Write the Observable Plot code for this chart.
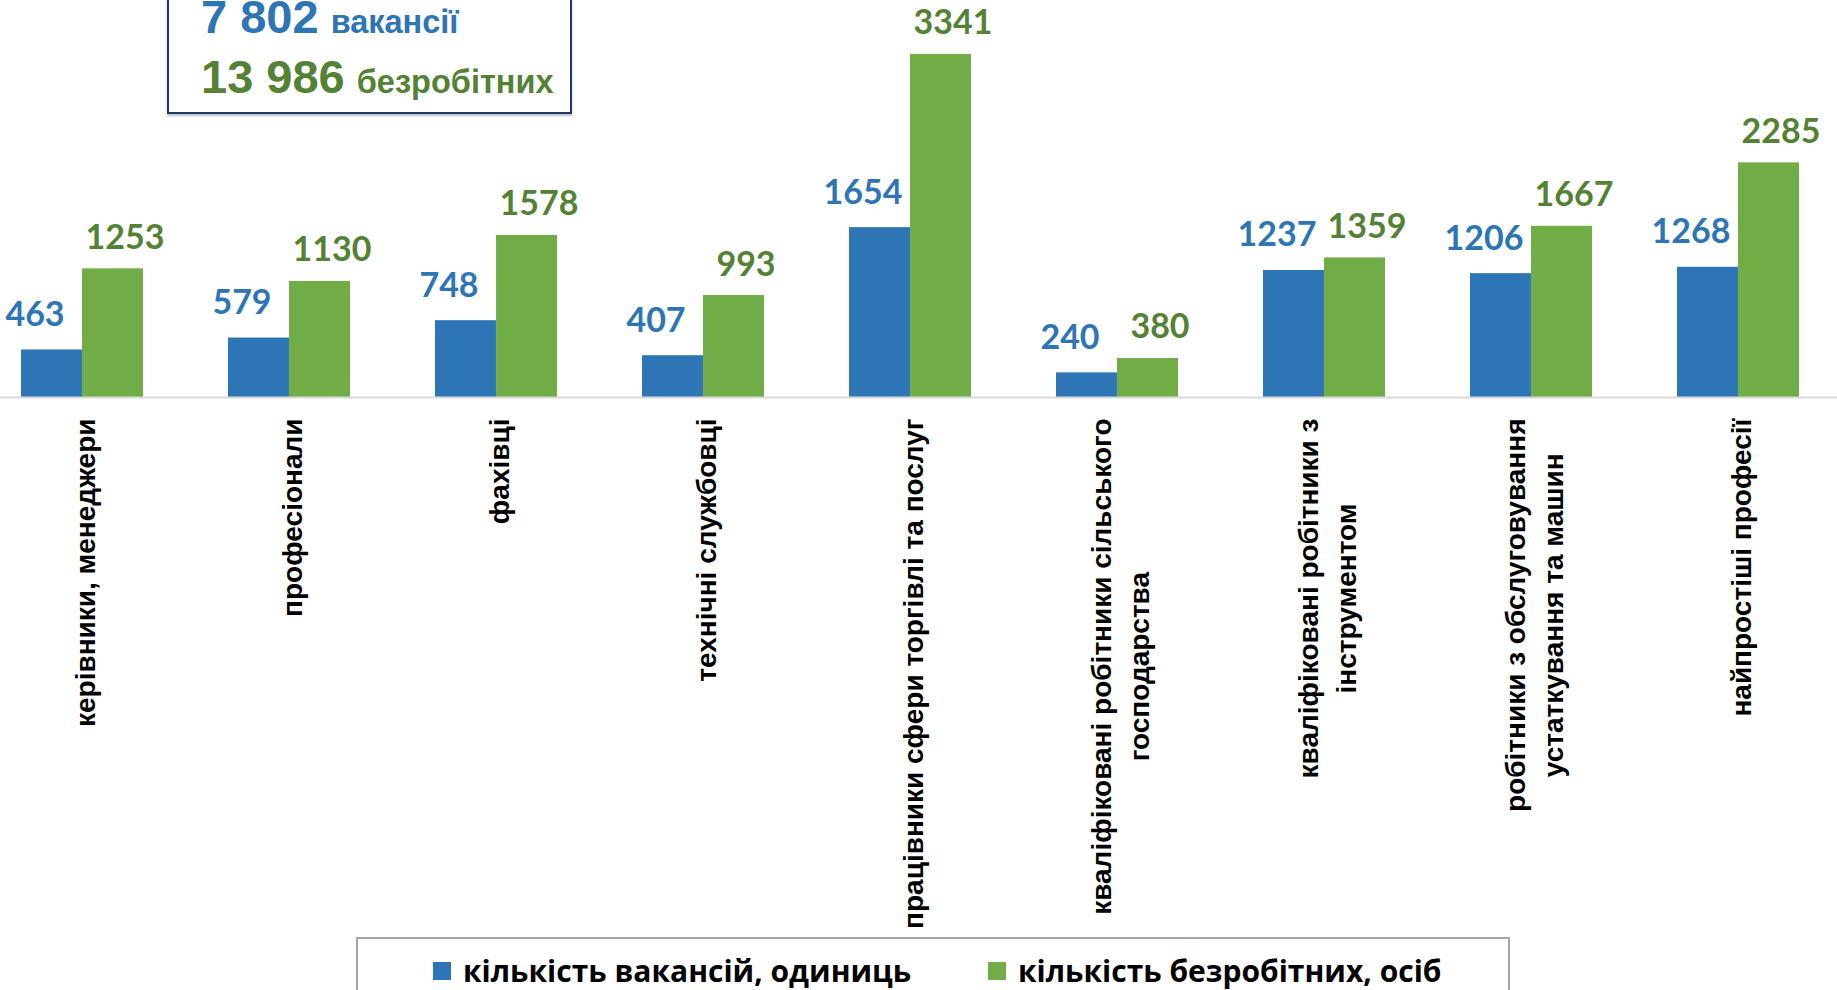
<!DOCTYPE html>
<html lang="uk">
<head>
<meta charset="utf-8">
<script src="https://cdn.jsdelivr.net/npm/d3@7"></script>
<script src="https://cdn.jsdelivr.net/npm/@observablehq/plot@0.6"></script>
<style>
  html, body { margin: 0; padding: 0; background: #fff; overflow: hidden; }
  #page { position: relative; width: 1837px; height: 990px; overflow: hidden; background: #fff; }
  #chart svg { display: block; }
  #summary {
    position: absolute; left: 167px; top: -40px; width: 405px; height: 154px;
    box-sizing: border-box; border: 2px solid #1f3864; background: #fff;
    box-shadow: 0 2px 2px rgba(0,0,0,0.25);
  }
  .sumline { position: absolute; left: 201px; white-space: nowrap;
    font-family: "Liberation Sans", Arial, sans-serif; font-weight: bold; line-height: 47px; }
  .big { font-size: 47px; }
  .small { font-size: 32.5px; margin-left: 3px; }
  #legend {
    position: absolute; left: 356px; top: 937px; width: 1154px; height: 80px;
    box-sizing: border-box; border: 2px solid #a6a6a6; background: #fff;
    padding-left: 75px; padding-top: 16px;
    font-family: "Open Sans", Lato, sans-serif; font-weight: bold; font-size: 30px; color: #000;
    display: flex; align-items: flex-start;
  }
  .item { display: flex; align-items: center; height: 31px; line-height: 31px; white-space: nowrap; }
  .sw { width: 18px; height: 18px; margin-right: 12px; flex: none; }
</style>
</head>
<body>
<div id="page">
  <div id="chart"></div>
  <div id="summary"></div>
  <div class="sumline" id="line1" style="top:-7px"></div>
  <div class="sumline" id="line2" style="top:53px"></div>
  <div id="legend"></div>
</div>
<script>
// ---- data ----
const categories = [
  "керівники, менеджери",
  "професіонали",
  "фахівці",
  "технічні службовці",
  "працівники сфери торгівлі та послуг",
  "кваліфіковані робітники сільського господарства",
  "кваліфіковані робітники з інструментом",
  "робітники з обслуговування устаткування та машин",
  "найпростіші професії"
];
const labelLines = [
  ["керівники, менеджери"],
  ["професіонали"],
  ["фахівці"],
  ["технічні службовці"],
  ["працівники сфери торгівлі та послуг"],
  ["кваліфіковані робітники сільського", "господарства"],
  ["кваліфіковані робітники з", "інструментом"],
  ["робітники з обслуговування", "устаткування та машин"],
  ["найпростіші професії"]
];
const vacancies = [463, 579, 748, 407, 1654, 240, 1237, 1206, 1268];
const unemployed = [1253, 1130, 1578, 993, 3341, 380, 1359, 1667, 2285];
const seriesNames = ["кількість вакансій, одиниць", "кількість безробітних, осіб"];
const totalVacancies = "7 802";
const totalUnemployed = "13 986";
const totalVacLabel = "вакансії";
const totalUnempLabel = "безробітних";

// ---- styles ----
const BLUE = "#2e75b6", GREEN = "#70ad47", GREEN_TEXT = "#548235";
const W = 1837, H = 937, BASE = 397;
const LABEL_SIZE = 28;
const labelFont = "'Liberation Sans', Arial, sans-serif";
const valueFont = "Lato, 'Open Sans', sans-serif";

const rows = categories.map((c, i) => ({category: c, vac: vacancies[i], unemp: unemployed[i]}));

const ctx = document.createElement("canvas").getContext("2d");
ctx.font = `bold ${LABEL_SIZE}px 'Liberation Sans'`;
const maxW = labelLines.map(lines => Math.max(...lines.map(l => ctx.measureText(l).width)));

const rangeX = [-25, 1845];
const padIn = 0.4126;
const bandW = (rangeX[1] - rangeX[0]) / categories.length * (1 - padIn);
const half = bandW / 2;

const plot = Plot.plot({
  width: W,
  height: H,
  marginLeft: 0, marginRight: 0, marginTop: 0, marginBottom: H - BASE,
  style: {background: "#fff", overflow: "hidden"},
  x: {type: "band", domain: categories, range: rangeX, paddingInner: padIn, paddingOuter: padIn / 2, axis: null},
  y: {domain: [0, 3866], axis: null},
  marks: [
    Plot.barY(rows, {x: "category", y: "vac", fill: BLUE, insetRight: half}),
    Plot.barY(rows, {x: "category", y: "unemp", fill: GREEN, insetLeft: half}),
    Plot.ruleY([0], {stroke: "#d9d9d9", strokeWidth: 2}),
    Plot.text(rows, {x: "category", y: "vac", text: d => String(d.vac), dx: -half / 2 - 17, dy: -24,
      lineAnchor: "bottom", fill: BLUE, fontSize: 34, fontWeight: "bold", fontFamily: valueFont}),
    Plot.text(rows, {x: "category", y: "unemp", text: d => String(d.unemp), dx: half / 2 + 12, dy: -20,
      lineAnchor: "bottom", fill: GREEN_TEXT, fontSize: 34, fontWeight: "bold", fontFamily: valueFont}),
    ...categories.map((c, i) => Plot.text([c], {
      x: d => d, text: () => labelLines[i].join("\n"),
      frameAnchor: "bottom", rotate: -90, textAnchor: "middle", lineAnchor: "middle",
      lineHeight: 1.38, dy: 21 + maxW[i] / 2,
      fontSize: LABEL_SIZE, fontWeight: "bold", fontFamily: labelFont, fill: "#000"
    }))
  ]
});
document.getElementById("chart").appendChild(plot);

// summary box
document.getElementById("line1").innerHTML =
  `<span class="big" style="color:${BLUE}">${totalVacancies}</span><span class="small" style="color:${BLUE}"> ${totalVacLabel}</span>`;
document.getElementById("line2").innerHTML =
  `<span class="big" style="color:${GREEN_TEXT}">${totalUnemployed}</span><span class="small" style="color:${GREEN_TEXT}"> ${totalUnempLabel}</span>`;

// legend
const legend = document.getElementById("legend");
[BLUE, GREEN].forEach((col, i) => {
  const it = document.createElement("div");
  it.className = "item";
  if (i === 0) it.style.width = "555px";
  it.innerHTML = `<span class="sw" style="background:${col}"></span><span>${seriesNames[i]}</span>`;
  legend.appendChild(it);
});
</script>
</body>
</html>
